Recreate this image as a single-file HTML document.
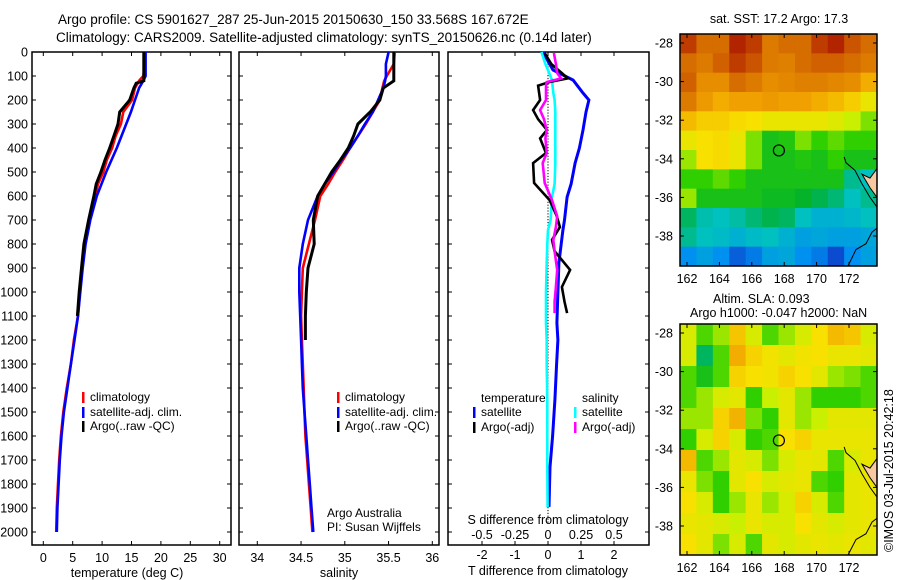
<!DOCTYPE html>
<html><head><meta charset="utf-8"><style>
body{margin:0;background:#fff;}
svg{display:block;font-family:"Liberation Sans",sans-serif;}
</style></head><body>
<svg id="fig" width="900" height="580" viewBox="0 0 900 580" xmlns="http://www.w3.org/2000/svg">
<text x="58" y="24" font-size="13.5">Argo profile: CS 5901627_287 25-Jun-2015 20150630_150 33.568S 167.672E</text>
<text x="56" y="42" font-size="13.5">Climatology: CARS2009. Satellite-adjusted climatology: synTS_20150626.nc (0.14d later)</text>
<g id="g"></g>
</svg>
<script>
// ---------- data ----------
const depthT = [0,50,100,120,150,200,250,300,350,400,450,500,550,600,700,800,900,1000,1100,1200,1300,1400,1500,1600,1700,1800,1900,2000];
const tempClim = [17.3,17.3,17.0,16.3,15.6,15.1,13.6,13.2,12.3,11.7,10.8,10.2,9.3,8.8,7.8,7.1,6.6,6.2,5.9,5.2,4.7,4.0,3.4,3.0,2.7,2.5,2.3,2.2];
const tempSat  = [17.4,17.4,17.4,17.0,16.3,15.6,14.9,14.1,13.3,12.5,11.6,10.7,9.9,9.1,8.0,7.2,6.7,6.3,5.9,5.3,4.7,4.1,3.5,3.1,2.8,2.6,2.4,2.3];
const depthA = [0,50,100,120,130,150,200,250,300,350,400,450,500,550,600,700,800,900,1000,1100];
const tempArgo = [17.1,17.1,17.1,17.1,15.8,15.4,14.7,13.0,12.7,12.0,11.3,10.5,9.8,9.0,8.6,7.7,6.9,6.5,6.1,5.8];
const salClim = [35.57,35.56,35.48,35.45,35.43,35.40,35.32,35.24,35.15,35.06,34.98,34.89,34.81,34.72,34.66,34.59,34.52,34.51,34.50,34.51,34.52,34.53,34.54,34.55,34.57,34.59,34.61,34.63];
const salSat  = [35.50,35.47,35.47,35.46,35.44,35.38,35.32,35.23,35.15,35.06,34.96,34.87,34.77,34.69,34.58,34.52,34.48,34.48,34.49,34.50,34.51,34.52,34.54,34.56,34.58,34.60,34.62,34.64];
const depthS = [0,50,100,120,150,200,250,300,350,400,450,500,550,600,700,800,900,1000,1100,1200,1300,1400,1500,1600,1700,1800,1900,2000];
const salArgo = [35.56,35.56,35.56,35.56,35.44,35.40,35.29,35.15,35.10,35.04,34.95,34.85,34.77,34.69,34.64,34.65,34.58,34.56,34.55,34.55];
const depthD = [0,50,75,117,171,200,250,325,400,463,550,604,700,742,800,879,1000,1129,1200,1300,1450,1600,1729,1896];
const tDiffSat = [-0.15,0.05,0.15,0.76,1.06,1.24,1.15,1.06,0.95,0.82,0.70,0.58,0.50,0.45,0.40,0.33,0.30,0.27,0.30,0.26,0.21,0.14,0.06,0.03];
const sDiffSat = [-0.05,-0.02,0.0,0.03,0.04,0.05,0.055,0.055,0.055,0.055,0.05,0.03,0.02,0.0,-0.005,-0.01,-0.015,-0.015,-0.01,-0.01,-0.005,-0.005,-0.005,-0.003];
const depthDA = [4,50,88,110,125,140,200,242,280,325,360,421,463,546,617,685,729,783,830,908,979,1040,1088];
const tDiffArgo = [-0.1,0.1,0.42,0.6,0.05,-0.3,-0.24,-0.45,-0.3,-0.03,-0.24,-0.06,-0.45,-0.42,0.05,0.27,0.36,0.12,0.2,0.67,0.42,0.5,0.58];
const sDiffArgo = [0.045,0.06,0.07,0.1,-0.01,-0.015,-0.015,-0.06,-0.03,-0.01,-0.02,-0.01,-0.04,-0.025,0.03,0.07,0.06,0.04,0.05,0.07,0.06,0.05,0.05];
const depthTicks = [0,100,200,300,400,500,600,700,800,900,1000,1100,1200,1300,1400,1500,1600,1700,1800,1900,2000];
const tempTicks = [0,5,10,15,20,25,30];
const salTicks = [34,34.5,35,35.5,36];
const tdTicks = [-2,-1,0,1,2];
const sdTicks = [-0.5,-0.25,0,0.25,0.5];
const sdTickLabels = ["-0.5","-0.25","0","0.25","0.5"];
const lonTicks = [162,164,166,168,170,172];
const latTicks = [-28,-30,-32,-34,-36,-38];
const sstGrid = [
[.95,.9,.9,.97,.95,.88,.9,.9,.95,.97,.93,.9],
[.9,.88,.92,.95,.93,.88,.87,.9,.92,.92,.9,.88],
[.92,.85,.85,.9,.88,.85,.86,.87,.87,.86,.85,.8],
[.88,.83,.8,.82,.82,.83,.82,.82,.8,.78,.75,.7],
[.78,.75,.75,.73,.72,.7,.7,.7,.7,.68,.65,.6],
[.7,.72,.73,.7,.6,.5,.52,.6,.55,.58,.55,.55],
[.62,.72,.73,.7,.6,.5,.5,.52,.5,.55,.5,.5],
[.55,.55,.58,.55,.5,.5,.5,.5,.5,.5,.35,.3],
[.62,.5,.5,.5,.5,.48,.48,.46,.42,.38,.3,.35],
[.4,.32,.3,.33,.38,.42,.4,.3,.25,.25,.27,.3],
[.35,.3,.28,.25,.28,.3,.25,.2,.22,.2,.2,.22],
[.15,.2,.15,.08,.12,.2,.22,.15,.12,.05,.15,.2]];
const slaGrid = [
[.67,.57,.62,.76,.67,.57,.62,.67,.72,.78,.76,.67],
[.67,.4,.57,.8,.74,.71,.69,.71,.72,.7,.7,.69],
[.57,.5,.57,.74,.72,.71,.74,.72,.69,.62,.6,.57],
[.57,.62,.67,.69,.55,.65,.69,.62,.55,.55,.55,.57],
[.62,.62,.74,.79,.6,.55,.69,.62,.65,.69,.69,.69],
[.55,.67,.74,.67,.55,.57,.72,.74,.7,.7,.7,.7],
[.78,.57,.62,.69,.67,.6,.67,.7,.69,.57,.67,.7],
[.7,.6,.55,.69,.72,.67,.69,.7,.57,.55,.69,.7],
[.72,.67,.55,.62,.7,.62,.67,.74,.67,.57,.69,.7],
[.7,.69,.67,.65,.7,.67,.67,.72,.69,.67,.69,.7],
[.72,.69,.6,.67,.57,.69,.67,.69,.7,.69,.7,.69]];
const argoLon = 167.672, argoLat = -33.568;

// ---------- helpers ----------
const NS="http://www.w3.org/2000/svg", G=document.getElementById('g');
function mk(tag,attrs,parent){const e=document.createElementNS(NS,tag);for(const k in attrs)e.setAttribute(k,attrs[k]);(parent||G).appendChild(e);return e;}
function txt(s,x,y,anchor,size,name){const e=mk('text',{x:x,y:y,'text-anchor':anchor||'start','font-size':size||12});e.textContent=s;


return e;}
const yD = d => 52 + d*0.24;
const xT = t => 43.3 + t*5.88;
const xS = s => 257.3 + (s-34)*87.5;
const xTD = v => 548 + v*33;
const xSD = v => 548 + v*132;
function line(xs,ds,fx,color,name,w){
  const pts=xs.map((v,i)=>fx(v).toFixed(1)+','+yD(ds[i]).toFixed(1)).join(' ');
  const p=mk('polyline',{points:pts,fill:'none',stroke:color,'stroke-width':w||2.6,'stroke-linejoin':'miter'});
  
  
}
function panel(x0,x1,name){
  const r=mk('rect',{x:x0,y:52,width:x1-x0,height:493,fill:'none',stroke:'#000','stroke-width':1.5});
  
  
  depthTicks.forEach(d=>{mk('line',{x1:x0,x2:x0+4,y1:yD(d),y2:yD(d),stroke:'#000'});mk('line',{x1:x1-4,x2:x1,y1:yD(d),y2:yD(d),stroke:'#000'});});
}
// ---------- panel 1 ----------
panel(32,231,'temperature-panel');
depthTicks.forEach(d=>txt(String(d),28,yD(d)+4.5,'end',12.5,'depth-tick-label'));
tempTicks.forEach(t=>{mk('line',{x1:xT(t),x2:xT(t),y1:545,y2:541,stroke:'#000'});mk('line',{x1:xT(t),x2:xT(t),y1:52,y2:56,stroke:'#000'});txt(String(t),xT(t),562,'middle',12.5,'temp-tick-label');});
txt('temperature (deg C)',127,577,'middle',12.5,'temperature-axis-title');
line(tempClim,depthT,xT,'#f00','temp-climatology-line');
line(tempSat,depthT,xT,'#00f','temp-satellite-line');
line(tempArgo,depthA,xT,'#000','temp-argo-line',3);
[['#f00','climatology',401],['#00f','satellite-adj. clim.',416],['#000','Argo(..raw -QC)',430]].forEach(a=>{mk('rect',{x:82,y:a[2]-9,width:2.5,height:11,fill:a[0]});txt(a[1],90,a[2],'start',12,'legend-entry');});
// ---------- panel 2 ----------
panel(239,439,'salinity-panel');
salTicks.forEach(s=>{mk('line',{x1:xS(s),x2:xS(s),y1:545,y2:541,stroke:'#000'});mk('line',{x1:xS(s),x2:xS(s),y1:52,y2:56,stroke:'#000'});txt(String(s),xS(s),562,'middle',12.5,'salinity-tick-label');});
txt('salinity',339,577,'middle',12.5,'salinity-axis-title');
line(salClim,depthS,xS,'#f00','sal-climatology-line');
line(salSat,depthS,xS,'#00f','sal-satellite-line');
line(salArgo,depthS.slice(0,salArgo.length),xS,'#000','sal-argo-line',3);
[['#f00','climatology',401],['#00f','satellite-adj. clim.',416],['#000','Argo(..raw -QC)',430]].forEach(a=>{mk('rect',{x:337,y:a[2]-9,width:2.5,height:11,fill:a[0]});txt(a[1],345,a[2],'start',12,'legend-entry');});
txt('Argo Australia',327,517,'start',12,'credit-institution');
txt('PI: Susan Wijffels',327,531,'start',12,'credit-pi');
// ---------- panel 3 ----------
panel(448,649,'difference-panel');
for(let d=0; d<=1960; d+=12) mk('rect',{x:547.5,y:yD(d),width:1,height:1.2,fill:'#000'});
tdTicks.forEach(v=>{mk('line',{x1:xTD(v),x2:xTD(v),y1:545,y2:541,stroke:'#000'});mk('line',{x1:xTD(v),x2:xTD(v),y1:52,y2:56,stroke:'#000'});txt(String(v),xTD(v),559,'middle',12.5,'tdiff-tick-label');});
sdTicks.forEach((v,i)=>txt(sdTickLabels[i],xSD(v),539,'middle',12.5,'sdiff-tick-label'));
txt('S difference from climatology',548,524,'middle',12.5,'sdiff-axis-title');
txt('T difference from climatology',548,575,'middle',12.5,'tdiff-axis-title');
line(tDiffSat,depthD,xTD,'#00f','tdiff-satellite-line',3);
line(sDiffSat,depthD,xSD,'#0ff','sdiff-satellite-line',2.6);
line(tDiffArgo,depthDA,xTD,'#000','tdiff-argo-line',2.6);
line(sDiffArgo,depthDA,xSD,'#f0f','sdiff-argo-line',2.6);
txt('temperature',481,402,'start',12,'legend-heading-temperature');
txt('salinity',582,402,'start',12,'legend-heading-salinity');
[['#00f','satellite',473,416],['#000','Argo(-adj)',473,431],['#0ff','satellite',574,416],['#f0f','Argo(-adj)',574,431]].forEach(a=>{mk('rect',{x:a[2],y:a[3]-9,width:2.5,height:11,fill:a[0]});txt(a[1],a[2]+8,a[3],'start',12,'legend-entry');});
// ---------- maps ----------
const stops=[[0,[16,40,190]],[0.15,[0,144,240]],[0.3,[0,192,192]],[0.45,[0,176,48]],[0.55,[48,208,0]],[0.65,[200,240,0]],[0.72,[248,224,0]],[0.82,[240,160,0]],[0.92,[208,96,0]],[1,[160,0,0]]];
function cmap(v){for(let i=1;i<stops.length;i++){if(v<=stops[i][0]){const a=stops[i-1],b=stops[i],f=(v-a[0])/(b[0]-a[0]);return 'rgb('+a[1].map((c,k)=>Math.round(c+(b[1][k]-c)*f)).join(',')+')';}}return 'rgb(160,0,0)';}
const xLon = lon => 687 + (lon-162)*16.2;
function map(grid,top,bot,lat0y,name){
  const x0=680,x1=877,ny=grid.length,nx=grid[0].length,cw=(x1-x0)/nx,ch=(bot-top)/ny;
  const yLat = lat => lat0y + (-28-lat)*19.3;
  grid.forEach((row,r)=>row.forEach((v,c)=>{const e=mk('rect',{x:x0+c*cw,y:top+r*ch,width:cw+0.5,height:ch+0.5,fill:cmap(v)});
    
    }));
  mk('path',{d:`M862 ${yLat(-34.8)} L870 ${yLat(-35.0)} L877 ${yLat(-34.5)} L877 ${yLat(-36.0)} L870 ${yLat(-35.5)} Z`,fill:'#f8c8a0',stroke:'#000','stroke-width':1});
  mk('polyline',{points:`${xLon(171.7)},${yLat(-33.9)} 846,${yLat(-34.2)} 855,${yLat(-34.6)} 862,${yLat(-35.3)} 870,${yLat(-36)} 877,${yLat(-36.5)}`,fill:'none',stroke:'#000','stroke-width':1});
  mk('polyline',{points:`848,${bot} 856,${yLat(-38.7)} 866,${yLat(-38.4)} 872,${yLat(-37.8)} 877,${yLat(-37.6)}`,fill:'none',stroke:'#000','stroke-width':1});
  const c=mk('circle',{cx:xLon(argoLon),cy:yLat(argoLat),r:5.5,fill:'none',stroke:'#000','stroke-width':1.2});
  
  
  const b=mk('rect',{x:x0,y:top,width:x1-x0,height:bot-top,fill:'none',stroke:'#000','stroke-width':1.5});
  
  
  latTicks.forEach(l=>{const y=yLat(l);mk('line',{x1:x0,x2:x0+4,y1:y,y2:y,stroke:'#000'});mk('line',{x1:x1-4,x2:x1,y1:y,y2:y,stroke:'#000'});txt(String(l),673,y+4.5,'end',12.5,'lat-tick-label');});
  lonTicks.forEach(l=>{const x=xLon(l);mk('line',{x1:x,x2:x,y1:bot,y2:bot-4,stroke:'#000'});mk('line',{x1:x,x2:x,y1:top,y2:top+4,stroke:'#000'});txt(String(l),x,bot+17,'middle',12.5,'lon-tick-label');});
}
map(sstGrid,34,266,43,'sst-map');
map(slaGrid,324,555,333,'sla-map');
txt('sat. SST: 17.2 Argo: 17.3',779,23,'middle',12.5,'sst-map-title');
txt('Altim. SLA: 0.093',713,303,'start',12.5,'sla-map-title');
txt('Argo h1000: -0.047 h2000: NaN',690,317,'start',12.5,'sla-map-subtitle');
const cr=txt('©IMOS 03-Jul-2015 20:42:18',0,0,'start',12.5,'copyright-stamp');
cr.setAttribute('transform','translate(893,552) rotate(-90)');
</script>
</body></html>
